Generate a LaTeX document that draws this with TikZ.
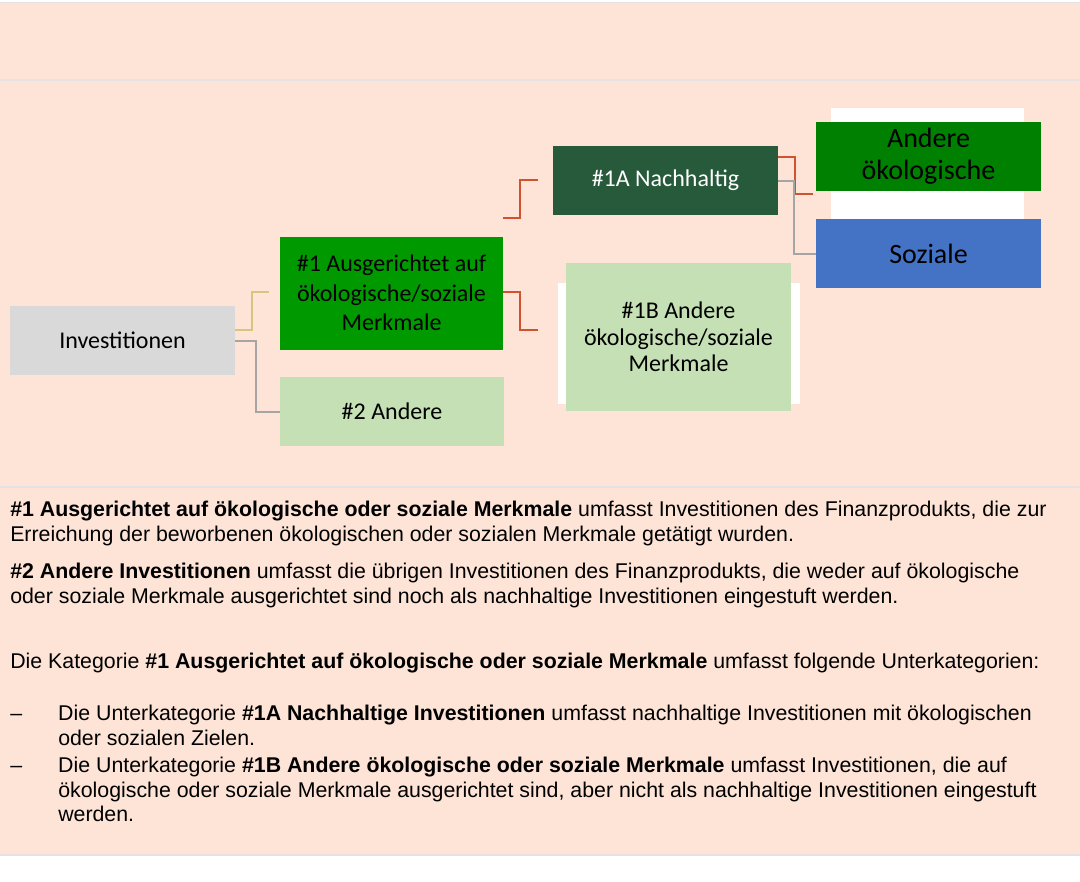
\documentclass[tikz,border=0pt]{standalone}
\usepackage{fontspec}
\setmainfont{Liberation Sans}
\newfontfamily\boxfont{Carlito}
\usepackage{tikz}
\definecolor{peach}{HTML}{FDE4D7}
\definecolor{sepgray}{HTML}{E4E2E2}
\definecolor{invgray}{HTML}{D9D9D9}
\definecolor{midgreen}{HTML}{009A00}
\definecolor{darkgreen}{HTML}{265A3A}
\definecolor{ecogreen}{HTML}{008000}
\definecolor{palegreen}{HTML}{C5E0B4}
\definecolor{socblue}{HTML}{4472C4}
\definecolor{linkred}{HTML}{CF5330}
\definecolor{linkgray}{HTML}{A5A5A5}
\definecolor{linkyellow}{HTML}{D4C67E}
\tikzset{
    box/.style={shape=rectangle, inner sep=0pt, align=center, minimum width=168.75pt, minimum height=51.75pt,
        font=\boxfont\fontsize{18}{21}\selectfont},
    link/.style={line width=1.5pt},
    para/.style={anchor=north west, inner sep=0pt, align=left, font=\fontsize{16}{18.4}\selectfont}}

\begin{document}
\begin{tikzpicture}[x=0.75pt, y=-0.75pt]

                    \useasboundingbox (0,0) rectangle (1080,881);
                    \fill[white] (0,0) rectangle (1080,881);
                    \fill[peach] (0,3) rectangle (1080,854);
                    \draw[sepgray, line width=1.2pt] (0,2.5) -- (1080,2.5);
                    \draw[sepgray, line width=1.2pt] (0,80) -- (1080,80);
                    \draw[sepgray, line width=1.2pt] (0,487) -- (1080,487);
                    \draw[sepgray, line width=1.5pt] (0,855) -- (1080,855);

                    % white panels behind the right boxes
                    \fill[white] (831,108) rectangle (1024,219);
                    \fill[white] (558,283) rectangle (800,404);

                    \node[box, fill=invgray] (inv) at (122.5,340.5) {Investitionen};
                    \node[box, fill=midgreen, minimum width=167.25pt, minimum height=84.75pt, font=\boxfont\fontsize{18}{22.2}\selectfont] (one) at (391.5,293) {\#1 Ausgerichtet auf\\ökologische/soziale\\Merkmale};
                    \node[box, fill=palegreen, minimum width=168pt] (two) at (392,411.5) {\#2 Andere};
                    \node[box, fill=darkgreen, text=white] (oneA) at (665.5,180.5) {\#1A Nachhaltig};
                    \node[box, fill=palegreen, minimum height=111pt, font=\boxfont\fontsize{18}{20}\selectfont] (oneB) at (678.5,337) {\#1B Andere\\ökologische/soziale\\Merkmale};
                    \node[box, fill=ecogreen, font=\boxfont\fontsize{21}{24}\selectfont] (eco) at (928.5,156.5) {Andere\\ökologische};
                    \node[box, fill=socblue, font=\boxfont\fontsize{21}{24}\selectfont] (soc) at (928.5,253.5) {Soziale};

                    \coordinate (oneIn) at (269,292);
                    \coordinate (oneAIn) at (538,180);
                    \coordinate (oneBIn) at (538,330);
                    \coordinate (ecoIn) at (813,194);

                    \draw[link, linkyellow] (inv.east |- 0,330) -- ++(17,0) |- (oneIn);
                    \draw[link, linkgray] (inv.east |- 0,341) -- ++(21,0) |- (two.west);
                    \draw[link, linkred] (one.east |- 0,218) -- ++(17,0) |- (oneAIn);
                    \draw[link, linkred] (one.east |- 0,292) -- ++(17,0) |- (oneBIn);
                    \draw[link, linkred] (oneA.east |- 0,157) -- ++(17,0) |- (ecoIn);
                    \draw[link, linkgray] (oneA.east) -- ++(16,0) |- (soc.west);

                    \node[para] (p1) at (10,501) {\textbf{\#1 Ausgerichtet auf ökologische oder soziale Merkmale} umfasst Investitionen des Finanzprodukts, die zur\\Erreichung der beworbenen ökologischen oder sozialen Merkmale getätigt wurden.};
                    \node[para] (p2) at (10,563) {\textbf{\#2 Andere Investitionen} umfasst die übrigen Investitionen des Finanzprodukts, die weder auf ökologische\\oder soziale Merkmale ausgerichtet sind noch als nachhaltige Investitionen eingestuft werden.};
                    \node[para] (p3) at (10,653) {Die Kategorie \textbf{\#1 Ausgerichtet auf ökologische oder soziale Merkmale} umfasst folgende Unterkategorien:};
                    \node[para] (b1) at (10,705) {\hbox to 36pt{–\hfil}Die Unterkategorie \textbf{\#1A Nachhaltige Investitionen} umfasst nachhaltige Investitionen mit ökologischen\\\hspace*{36pt}oder sozialen Zielen.};
                    \node[para] (b2) at (10,757) {\hbox to 36pt{–\hfil}Die Unterkategorie \textbf{\#1B Andere ökologische oder soziale Merkmale} umfasst Investitionen, die auf\\\hspace*{36pt}ökologische oder soziale Merkmale ausgerichtet sind, aber nicht als nachhaltige Investitionen eingestuft\\\hspace*{36pt}werden.};

                \end{tikzpicture}
\end{document}
